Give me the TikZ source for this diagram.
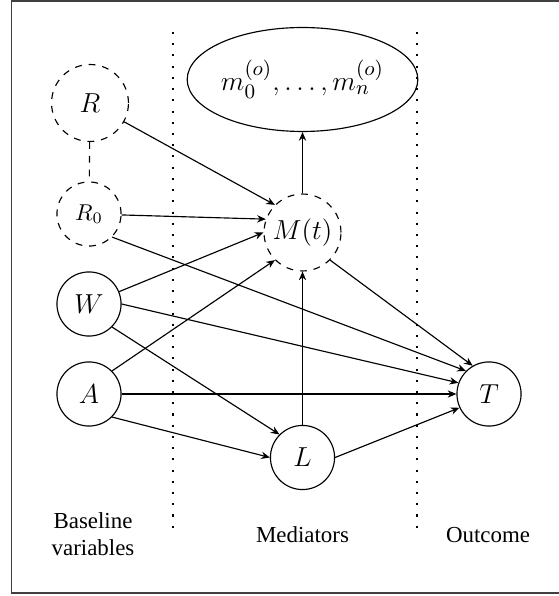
\documentclass[tikz,border=0pt]{standalone}
\usepackage[no-math]{fontspec}
\setmainfont{Liberation Serif}
\usepackage{amsmath}
\usepackage{amssymb}
\usetikzlibrary{arrows.meta}
\usetikzlibrary{shapes.geometric}
\tikzset{
	var/.style={circle, draw, minimum size=28pt, inner sep=0pt, font=\fontsize{12.5}{15}\selectfont},
	latent/.style={var, dashed},
	arr/.style={-{Stealth[length=3.8pt, width=3.2pt]}},
	sep/.style={loosely dotted, line width=0.9pt}
}

\begin{document}
\begin{tikzpicture}[x=0.4367pt, y=-0.4367pt, line width=0.5pt]

					\useasboundingbox (0,0) rectangle (558,596);
					\draw[black!75, line width=0.7pt] (11.5,1) rectangle (575,593);

					\node[latent, minimum size=33.6pt] (R) at (90,103) {$R$};
					\node[latent, font=\normalsize] (R0) at (89,214) {$R_0$};
					\node[var] (W) at (89,304) {$W$};
					\node[var] (A) at (89,394) {$A$};

					\node[latent, minimum size=33.6pt] (M) at (302.5,232.5) {$M(t)$};
					\node[ellipse, draw, minimum width=84.3pt, minimum height=45.4pt, inner sep=0pt, font=\fontsize{12.5}{15}\selectfont] (obs) at (302.5,79.5) {$m_0^{(o)},\ldots,m_n^{(o)}$};
					\node[var] (L) at (302.5,457.5) {$L$};

					\node[var] (T) at (489,394) {$T$};

					\draw[sep] (173.3,32) -- (173.3,528);
					\draw[sep] (417,32) -- (417,528);

					\node[align=center] (base) at (93,534) {Baseline\\variables};
					\node (med) at (302.5,535) {Mediators};
					\node (out) at (488,535) {Outcome};

					\draw[dashed] (R) -- (R0);
					\draw[arr] (R) -- (M.north west);
					\draw[arr] (R0) -- (M.160);
					\draw[arr] (R0.south east) -- (T.135);
					\draw[arr] (W) -- (M.west);
					\draw[arr] (W.east) -- (T.160);
					\draw[arr] (W.south east) -- (L.north west);
					\draw[arr] (A.north east) -- (M.south west);
					\draw[arr] (A) -- (T);
					\draw[arr] (A.south east) -- (L.west);
					\draw[arr] (L) -- (M);
					\draw[arr] (L.east) -- (T.205);
					\draw[arr] (M.south east) -- (T.120);
					\draw[arr] (M) -- (obs);

\end{tikzpicture}
\end{document}
